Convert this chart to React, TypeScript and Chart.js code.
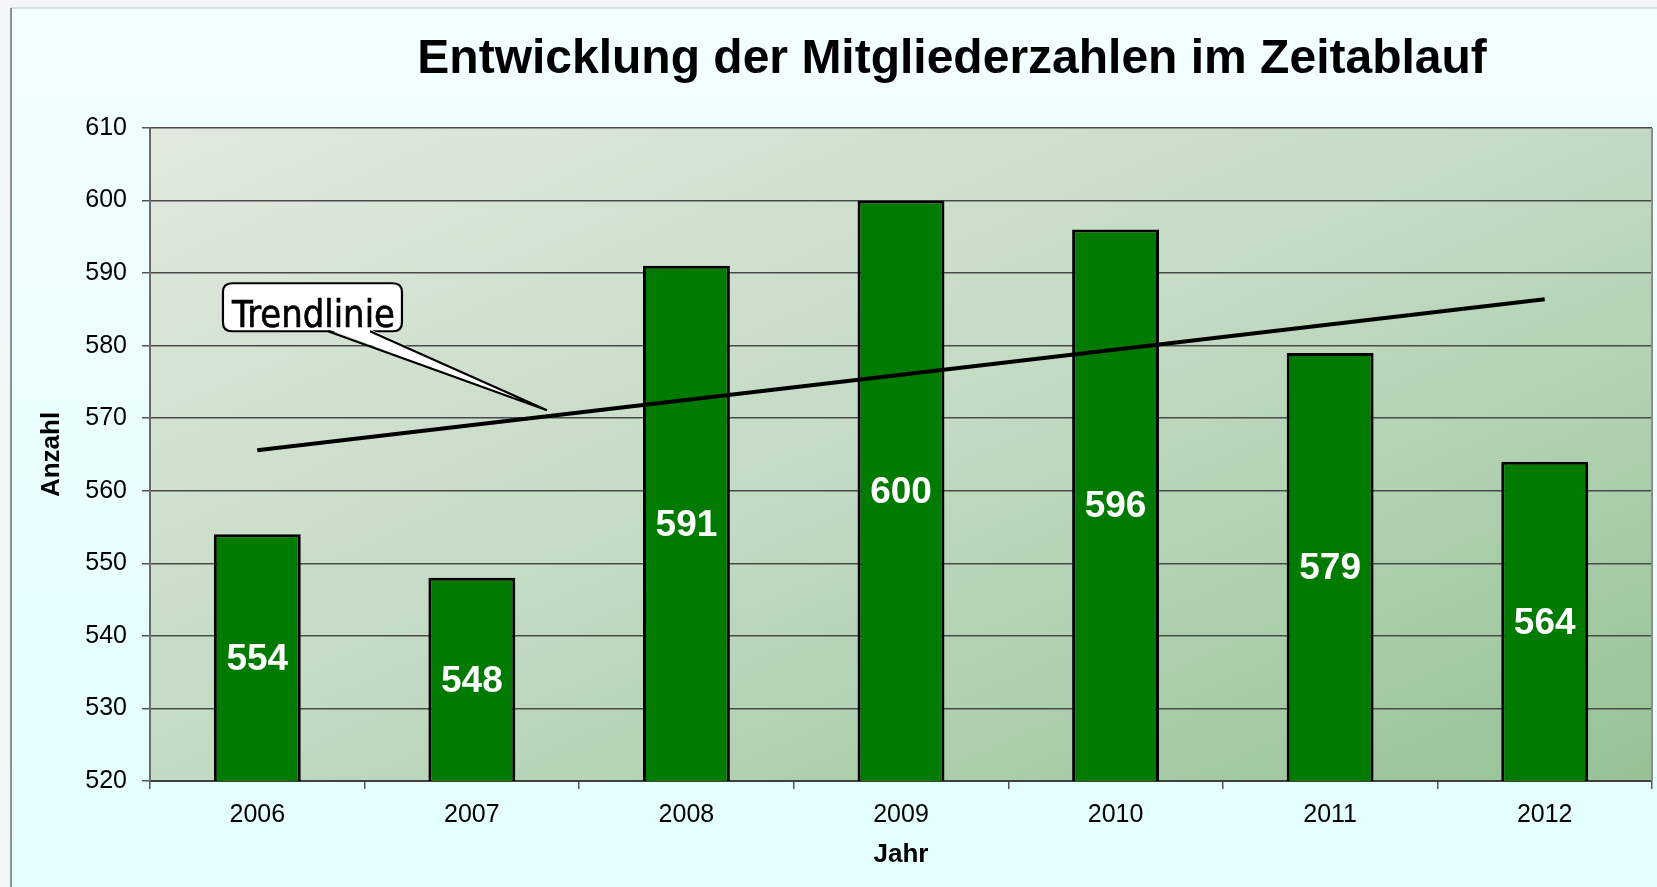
import React, { useEffect, useRef } from "react";
import { Chart, registerables } from "chart.js";

Chart.register(...registerables);

// ---- data ----
const years = ["2006", "2007", "2008", "2009", "2010", "2011", "2012"];
const members = [554, 548, 591, 600, 596, 579, 564];
// linear trend line (start and end)
const trendValues: (number | null)[] = [565.6, null, null, null, null, null, 586.4];
const yMin = 520;
const yMax = 610;
const yStep = 10;

const titleText = "Entwicklung der Mitgliederzahlen im Zeitablauf";
const xTitle = "Jahr";
const yTitle = "Anzahl";
const calloutText = "Trendlinie";
// callout tip anchored at (category index, value)
const calloutAnchor = [1.35, 571.1];

const W = 1657;
const H = 887;

const bgPlugin = {
  id: "bgPlugin",
  beforeDraw(chart: any) {
    const { ctx, chartArea } = chart;
    ctx.save();
    // page strip
    ctx.fillStyle = "#F3F6F6";
    ctx.fillRect(0, 0, W, H);
    // chart box
    const g = ctx.createLinearGradient(0, 7, 0, H);
    g.addColorStop(0, "#F3FEFF");
    g.addColorStop(1, "#E3FFFF");
    ctx.fillStyle = g;
    ctx.fillRect(11, 7, W - 11, H - 7);
    ctx.strokeStyle = "#D4E2E4";
    ctx.lineWidth = 2;
    ctx.beginPath();
    ctx.moveTo(W, 8);
    ctx.lineTo(11, 8);
    ctx.stroke();
    ctx.strokeStyle = "#8A9294";
    ctx.beginPath();
    ctx.moveTo(11, 8);
    ctx.lineTo(11, H);
    ctx.stroke();
    // plot area gradient (diagonal, shape-relative)
    const { left, top, right, bottom } = chartArea;
    const w = right - left;
    const h = bottom - top;
    const k = (2 * w * h) / (w * w + h * h);
    const pg = ctx.createLinearGradient(left, top, left + h * k, top + w * k);
    pg.addColorStop(0, "#E1E9DF");
    pg.addColorStop(0.5, "#C2DAC2");
    pg.addColorStop(1, "#96C296");
    ctx.fillStyle = pg;
    ctx.fillRect(left, top, w, h);
    // title
    ctx.fillStyle = "#000000";
    ctx.font = 'bold 48px "Liberation Sans", Arial, sans-serif';
    ctx.textAlign = "center";
    ctx.textBaseline = "alphabetic";
    ctx.fillText(titleText, left + w * 0.534, 73);
    ctx.restore();
  },
  afterDatasetsDraw(chart: any) {
    const { ctx, scales } = chart;
    ctx.save();
    ctx.fillStyle = "#FFFFFF";
    ctx.font = 'bold 37px "Liberation Sans", Arial, sans-serif';
    ctx.textAlign = "center";
    ctx.textBaseline = "middle";
    members.forEach((v, i) => {
      const x = scales.x.getPixelForValue(i);
      const y = scales.y.getPixelForValue((v + yMin) / 2);
      ctx.fillText(String(v), x, y + 2);
    });
    ctx.restore();
  },
  afterDraw(chart: any) {
    const { ctx, chartArea, scales } = chart;
    ctx.save();
    // right border of plot area
    ctx.strokeStyle = "#8C8C8C";
    ctx.lineWidth = 2;
    ctx.beginPath();
    ctx.moveTo(chartArea.right, chartArea.top);
    ctx.lineTo(chartArea.right, chartArea.bottom);
    ctx.stroke();

    // callout
    const tx = scales.x.getPixelForValue(calloutAnchor[0]);
    const ty = scales.y.getPixelForValue(calloutAnchor[1]);
    const bx = tx - 324;
    const by = ty - 127;
    const bw = 179;
    const bh = 48;
    const r = 9;
    const bottomY = by + bh;
    const p1 = tx - 219;
    const p2 = tx - 177;
    ctx.lineWidth = 2.2;
    ctx.strokeStyle = "#000000";
    ctx.fillStyle = "#FFFFFF";
    ctx.beginPath();
    ctx.moveTo(bx + r, by);
    ctx.lineTo(bx + bw - r, by);
    ctx.quadraticCurveTo(bx + bw, by, bx + bw, by + r);
    ctx.lineTo(bx + bw, bottomY - r);
    ctx.quadraticCurveTo(bx + bw, bottomY, bx + bw - r, bottomY);
    ctx.lineTo(bx + r, bottomY);
    ctx.quadraticCurveTo(bx, bottomY, bx, bottomY - r);
    ctx.lineTo(bx, by + r);
    ctx.quadraticCurveTo(bx, by, bx + r, by);
    ctx.closePath();
    ctx.fill();
    ctx.stroke();
    // pointer
    ctx.beginPath();
    ctx.moveTo(p1, bottomY - 2);
    ctx.lineTo(tx, ty);
    ctx.lineTo(p2, bottomY - 2);
    ctx.closePath();
    ctx.fill();
    ctx.beginPath();
    ctx.moveTo(p1, bottomY);
    ctx.lineTo(tx, ty);
    ctx.lineTo(p2, bottomY);
    ctx.stroke();
    // text (fit to the width seen in the reference)
    ctx.fillStyle = "#000000";
    ctx.font = '37px "DejaVu Sans Condensed", "DejaVu Sans", sans-serif';
    ctx.textAlign = "left";
    ctx.textBaseline = "alphabetic";
    const tw = ctx.measureText(calloutText).width;
    const sx = 163 / tw;
    ctx.translate(bx + 9, bottomY - 4);
    ctx.scale(sx, 1);
    ctx.fillText(calloutText, 0, 0);
    ctx.lineWidth = 0.6;
    ctx.strokeText(calloutText, 0, 0);
    ctx.restore();
  },
};

export default function App() {
  const ref = useRef<HTMLCanvasElement | null>(null);

  useEffect(() => {
    if (!ref.current) return;
    const padLeft = 32;
    const padBottom = 13;
    const padTop = 128;
    const padRight = 5;
    const chart = new Chart(ref.current, {
      type: "bar",
      data: {
        labels: years,
        datasets: [
          {
            type: "bar",
            label: "Mitglieder",
            data: members,
            backgroundColor: "#007A00",
            borderColor: "#000000",
            borderWidth: 3,
            barPercentage: 0.9,
            categoryPercentage: 0.45,
            order: 2,
          },
          {
            type: "line",
            label: "Trendlinie",
            data: trendValues,
            borderColor: "#000000",
            borderWidth: 4,
            pointRadius: 0,
            spanGaps: true,
            fill: false,
            order: 1,
          } as any,
        ],
      },
      options: {
        responsive: false,
        animation: false,
        layout: { padding: { top: padTop, left: padLeft, bottom: padBottom, right: padRight } },
        plugins: {
          legend: { display: false },
          title: { display: false },
          tooltip: { enabled: false },
        },
        scales: {
          x: {
            offset: true,
            grid: {
              offset: true,
              drawOnChartArea: false,
              drawTicks: true,
              tickLength: 8,
              tickColor: "#555555",
              lineWidth: 1.5,
            },
            border: { display: true, color: "#404040", width: 2 },
            ticks: {
              color: "#000000",
              padding: 11,
              font: { family: '"Liberation Sans", Arial, sans-serif', size: 25 },
              maxRotation: 0,
            },
            title: {
              display: true,
              text: xTitle,
              color: "#000000",
              padding: { top: 0, bottom: 4 },
              font: { family: '"Liberation Sans", Arial, sans-serif', size: 26, weight: "bold" },
            },
            afterFit: (s: any) => {
              s.height = H - padBottom - 781;
            },
          },
          y: {
            min: yMin,
            max: yMax,
            ticks: {
              stepSize: yStep,
              color: "#000000",
              padding: 15,
              font: { family: '"Liberation Sans", Arial, sans-serif', size: 25 },
            },
            grid: {
              color: "#4A4A4A",
              lineWidth: 1.5,
              tickLength: 8,
              tickColor: "#555555",
            },
            border: { display: true, color: "#6A6A6A", width: 2 },
            title: {
              display: true,
              text: yTitle,
              color: "#000000",
              padding: { top: 4, bottom: 0 },
              font: { family: '"Liberation Sans", Arial, sans-serif', size: 26, weight: "bold" },
            },
            afterFit: (s: any) => {
              s.width = 150 - padLeft;
            },
          },
        },
      },
      plugins: [bgPlugin],
    });
    return () => chart.destroy();
  }, []);

  return (
    <div style={{ position: "fixed", left: 0, top: 0, width: W, height: H }}>
      <canvas ref={ref} width={W} height={H} style={{ display: "block" }} />
    </div>
  );
}
